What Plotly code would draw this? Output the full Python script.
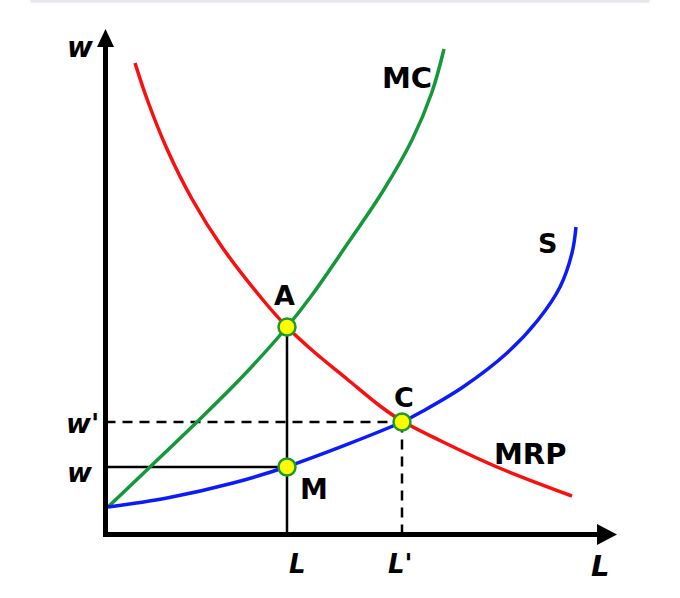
import plotly.graph_objects as go

# curve samples (L, w), origin at the corner of the axes
mrp_x = [31, 43, 63, 88, 118, 159, 183, 209, 243, 276, 298, 337, 393, 468]
mrp_y = [472, 436, 386, 336, 288, 235, 208, 184, 156, 129, 114, 94, 68, 39]

mc_x = [4, 46, 96, 139, 183, 208, 244, 279, 308, 328, 340]
mc_y = [28, 68, 116, 159, 208, 240, 292, 344, 395, 443, 486]

s_x = [4, 63, 129, 182, 298, 319, 359, 403, 434, 456, 468, 472]
s_y = [28, 37, 52, 68, 113, 124, 148, 182, 215, 248, 282, 308]

pt_names = ["A", "C", "M"]
pt_x = [183, 298, 183]
pt_y = [208, 113, 68]

RED = "#fa0f0f"
GREEN = "#14983a"
BLUE = "#0c1cf8"
FONT = "DejaVu Sans"

fig = go.Figure()
for xs, ys, col in [(mrp_x, mrp_y, RED), (mc_x, mc_y, GREEN), (s_x, s_y, BLUE)]:
    fig.add_trace(go.Scatter(x=xs, y=ys, mode="lines",
                             line=dict(color=col, width=3.5, shape="spline", smoothing=1)))
fig.add_trace(go.Scatter(x=pt_x, y=pt_y, mode="markers",
                         marker=dict(size=17, color="#ffff00", line=dict(color="#1e9a2a", width=2.5))))

ax, ay = 1.5, 0.5
ax_, ay_ = pt_x[0], pt_y[0]
cx, cy = pt_x[1], pt_y[1]
mx, my = pt_x[2], pt_y[2]

shapes = [
    # faint rule at the top
    dict(type="line", xref="paper", yref="paper", x0=0.045, x1=0.955, y0=0.998, y1=0.998,
         line=dict(color="#e6e6ec", width=3)),
    # guide lines
    dict(type="line", x0=ax_, x1=ax_, y0=ay, y1=ay_, line=dict(color="black", width=2.5), layer="below"),
    dict(type="line", x0=ax, x1=mx, y0=my, y1=my, line=dict(color="black", width=2.5), layer="below"),
    dict(type="line", x0=ax, x1=cx, y0=cy, y1=cy, line=dict(color="black", width=2.5, dash="10px,7px"), layer="below"),
    dict(type="line", x0=cx, x1=cx, y0=ay, y1=cy, line=dict(color="black", width=2.5, dash="10px,7px"), layer="below"),
    # axes
    dict(type="line", x0=ax, x1=ax, y0=-1, y1=490, line=dict(color="black", width=5)),
    dict(type="line", x0=-1, x1=495, y0=ay, y1=ay, line=dict(color="black", width=5)),
    dict(type="path", path="M -7 488 L 10 488 L 1.5 506 Z", fillcolor="black", line=dict(width=0)),
    dict(type="path", path="M 493 -10 L 493 11 L 513 0.5 Z", fillcolor="black", line=dict(width=0)),
]

labels = [
    ("<b><i>w</i></b>", -24, 488, 28),
    ("<b>MC</b>", 303, 457, 29),
    ("<b>A</b>", 180, 240, 27),
    ("<b>S</b>", 443, 292, 27),
    ("<b>C</b>", 300, 138, 27),
    ("<b>MRP</b>", 426, 81, 29),
    ("<b>M</b>", 210, 46, 28),
    ("<b><i>w'</i></b>", -22, 112, 27),
    ("<b><i>w</i></b>", -24, 63, 27),
    ("<b><i>L</i></b>", 193, -29, 26),
    ("<b><i>L'</i></b>", 296, -29, 26),
    ("<b><i>L</i></b>", 496, -31, 29),
]
annotations = [dict(text=t, x=x, y=y, showarrow=False, xanchor="center", yanchor="middle",
                    font=dict(family=FONT, size=s, color="black")) for t, x, y, s in labels]

fig.update_layout(
    width=680, height=598, autosize=False,
    margin=dict(l=0, r=0, t=0, b=0),
    paper_bgcolor="white", plot_bgcolor="white",
    showlegend=False,
    xaxis=dict(range=[-104, 576], visible=False, fixedrange=True),
    yaxis=dict(range=[-63, 535], visible=False, fixedrange=True),
    shapes=shapes,
    annotations=annotations,
)

fig.write_html("out.html", config={"displayModeBar": False},
               post_script="document.body.style.margin='0';")
